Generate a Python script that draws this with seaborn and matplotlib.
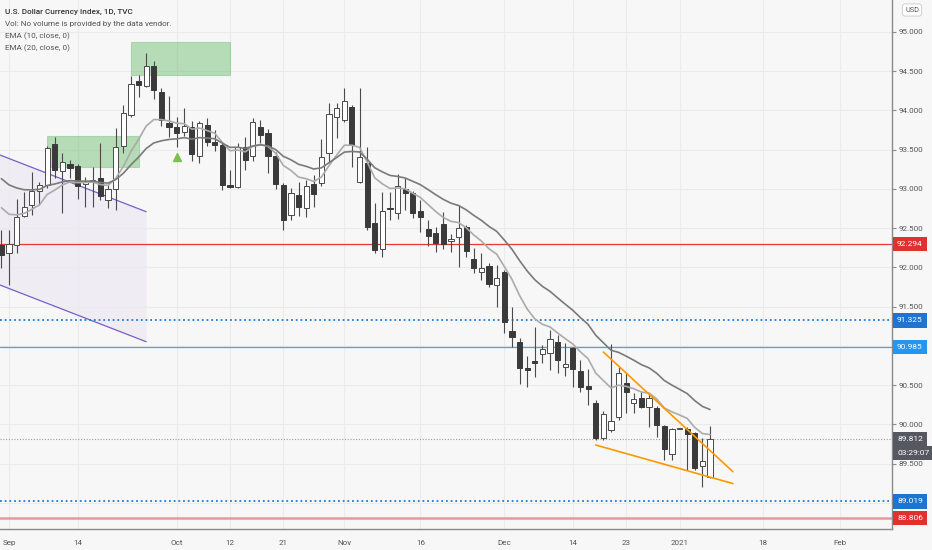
import numpy as np
import pandas as pd
import matplotlib
matplotlib.use('Agg')
import matplotlib.pyplot as plt
import matplotlib.transforms as mtransforms
from matplotlib.patches import Rectangle
import seaborn as sns

# TVC:DXY daily candles, 31 Aug 2020 .. 7 Jan 2021
opens = [92.285, 92.183, 92.285, 92.654, 92.795, 92.973, 93.049, 93.572, 93.228, 93.317,
         93.291, 93.062, 93.088, 93.138, 92.858, 92.998, 93.546, 93.941, 94.374, 94.310,
         94.565, 94.234, 93.839, 93.788, 93.724, 93.788, 93.419, 93.814, 93.597, 93.559,
         93.049, 93.024, 93.533, 93.419, 93.788, 93.712, 93.419, 93.049, 92.667, 92.922,
         92.756, 93.062, 93.075, 93.457, 93.916, 93.877, 94.043, 93.088, 93.330, 92.565,
         92.234, 92.756, 92.693, 92.998, 92.947, 92.718, 92.489, 92.438, 92.553, 92.336,
         92.387, 92.514, 92.107, 91.941, 92.017, 91.775, 91.941, 91.189, 91.049, 90.718,
         90.807, 90.896, 90.909, 91.049, 90.731, 90.973, 90.680, 90.489, 90.272, 89.826,
         89.928, 90.094, 90.527, 90.272, 90.336, 90.221, 90.208, 89.979, 89.622, 89.941,
         89.941, 89.890, 89.470, 89.329]
highs = [92.476, 92.476, 92.871, 92.960, 93.215, 93.088, 93.546, 93.661, 93.457, 93.368,
         93.317, 93.151, 93.279, 93.584, 93.049, 93.775, 94.068, 94.438, 94.451, 94.731,
         94.629, 94.285, 94.183, 93.916, 94.030, 93.865, 93.865, 93.903, 93.750, 93.584,
         93.240, 93.584, 93.661, 93.903, 93.877, 93.763, 93.470, 93.075, 93.011, 93.088,
         93.113, 93.177, 93.635, 94.094, 94.094, 94.285, 94.068, 94.285, 93.533, 92.820,
         92.960, 92.960, 93.189, 93.138, 92.973, 92.858, 92.603, 92.514, 92.705, 92.425,
         92.795, 92.540, 92.247, 92.183, 92.056, 92.030, 91.966, 91.495, 91.100, 90.871,
         91.240, 91.011, 91.202, 91.138, 91.037, 90.986, 90.820, 90.705, 90.310, 90.170,
         91.024, 90.731, 90.667, 90.400, 90.412, 90.400, 90.234, 89.992, 89.954, 89.947,
         89.966, 89.903, 89.826, 89.979]
lows = [91.992, 91.775, 92.183, 92.642, 92.667, 92.795, 93.011, 93.138, 92.693, 93.138,
        92.871, 92.769, 92.769, 92.858, 92.756, 92.731, 93.457, 93.916, 94.170, 94.298,
        94.145, 93.801, 93.661, 93.533, 93.673, 93.355, 93.330, 93.546, 93.482, 92.986,
        93.011, 93.011, 93.240, 93.355, 93.584, 93.202, 92.998, 92.476, 92.603, 92.654,
        92.642, 92.769, 93.037, 93.342, 93.648, 93.852, 93.279, 93.075, 92.476, 92.183,
        92.132, 92.603, 92.616, 92.731, 92.629, 92.451, 92.272, 92.196, 92.234, 92.196,
        92.005, 92.132, 91.928, 91.839, 91.750, 91.495, 91.164, 90.986, 90.514, 90.476,
        90.603, 90.782, 90.693, 90.654, 90.616, 90.476, 90.412, 90.247, 89.801, 89.801,
        89.903, 90.056, 90.145, 90.145, 90.208, 89.966, 89.839, 89.546, 89.546, 89.935,
        89.419, 89.419, 89.202, 89.317]
closes = [92.158, 92.298, 92.642, 92.769, 92.973, 93.049, 93.521, 93.240, 93.342, 93.266,
          93.037, 93.088, 93.113, 92.909, 92.998, 93.533, 93.966, 94.336, 94.323, 94.565,
          94.259, 93.877, 93.788, 93.712, 93.801, 93.444, 93.839, 93.597, 93.559, 93.049,
          93.024, 93.533, 93.368, 93.852, 93.686, 93.419, 93.062, 92.603, 92.947, 92.769,
          93.037, 92.935, 93.406, 93.954, 94.030, 94.119, 93.559, 93.406, 92.514, 92.221,
          92.718, 92.744, 93.037, 92.947, 92.693, 92.642, 92.400, 92.310, 92.298, 92.361,
          92.502, 92.209, 91.992, 91.992, 91.788, 91.865, 91.304, 91.113, 90.718, 90.693,
          90.782, 90.960, 91.087, 90.820, 90.769, 90.705, 90.476, 90.450, 89.826, 90.132,
          90.043, 90.654, 90.412, 90.323, 90.221, 90.336, 89.992, 89.686, 89.941, 89.941,
          89.877, 89.444, 89.533, 89.812]

# EMA values on the first visible bar (history before it is off-chart)
ema10_start = 92.76
ema20_start = 93.13

# horizontal levels drawn on the chart
red_levels = [92.294, 88.806]
blue_dotted_levels = [91.325, 89.019]
blue_level = 90.985
last_price = 89.812
countdown = '03:29:07'

# drawings
zone_low = (93.279, 93.674, '2020-09-08', '2020-09-24')
zone_high = (94.451, 94.871, '2020-09-23', '2020-10-12')
channel_dates = ['2020-08-28', '2020-09-25']
channel_upper = [93.462, 92.709]
channel_lower = [91.806, 91.053]
wedge_upper = [('2020-12-18', 90.922), ('2021-01-12', 89.397)]
wedge_lower = [('2020-12-17', 89.737), ('2021-01-12', 89.246)]
signal_date, signal_price = '2020-10-01', 93.41

tick_dates = ['2020-09-01', '2020-09-14', '2020-10-01', '2020-10-12', '2020-10-21',
              '2020-11-02', '2020-11-16', '2020-12-01', '2020-12-14', '2020-12-23',
              '2021-01-01', '2021-01-18', '2021-02-01']
tick_labels = ['Sep', '14', 'Oct', '12', '21', 'Nov', '16', 'Dec', '14', '23',
               '2021', '18', 'Feb']
price_ticks = np.arange(89.0, 95.01, 0.5)
hidden_ticks = [89.0, 91.0]   # covered by the price badges


def ema(values, start, span):
    a = 2.0 / (span + 1)
    out = [start]
    for v in values[1:]:
        out.append(out[-1] + a * (v - out[-1]))
    return out


cal = pd.bdate_range('2020-08-28', '2021-02-26')
pos = lambda d: cal.get_loc(pd.Timestamp(d))
dates = pd.bdate_range('2020-08-31', periods=len(closes))
x = cal.get_indexer(dates)

df = pd.DataFrame({'x': x, 'open': opens, 'high': highs, 'low': lows, 'close': closes})
df['ema10'] = ema(closes, ema10_start, 10)
df['ema20'] = ema(closes, ema20_start, 20)

sns.set_theme(style='white')
plt.rcParams['font.family'] = ['Roboto', 'DejaVu Sans']

bg = '#f7f7f7'
fig = plt.figure(figsize=(9.32, 5.5), dpi=100, facecolor=bg)
ax = fig.add_axes([0, 21 / 550, 892 / 932, 529 / 550])
ax.set_facecolor(bg)

# channel
cx = [pos(d) for d in channel_dates]
ax.fill_between(cx, channel_lower, channel_upper, color='#9575cd', alpha=0.08, lw=0, zorder=0.5)
ax.plot(cx, channel_upper, color='#7460c8', lw=0.9, zorder=1)
ax.plot(cx, channel_lower, color='#7460c8', lw=0.9, zorder=1)

# zones
for lo, hi, d0, d1 in [zone_low, zone_high]:
    ax.add_patch(Rectangle((pos(d0), lo), pos(d1) - pos(d0), hi - lo,
                           facecolor='#4caf50', alpha=0.38, edgecolor='#5cb860', lw=0.8, zorder=1))

# levels
ax.axhline(red_levels[0], color='#e53935', lw=0.9, zorder=1.2)
ax.axhline(red_levels[1], color='#e59a9a', lw=1.8, zorder=1.2)
for lv in blue_dotted_levels:
    ax.axhline(lv, color='#1e7bd6', lw=1.3, ls=(0, (1, 1.6)), zorder=1.2)
ax.axhline(blue_level, color='#42a5f5', lw=0.9, zorder=1.2)
ax.axhline(last_price, color='#9e9e9e', lw=0.8, ls=(0, (1, 1.5)), zorder=1.2)

# candles
up = df['close'] >= df['open']
body_lo = df[['open', 'close']].min(axis=1)
body_h = (df['close'] - df['open']).abs().clip(lower=0.01)
ax.vlines(df['x'], df['low'], df['high'], color='#4a4a4a', lw=0.8, zorder=2)
ax.bar(df['x'][up], body_h[up], bottom=body_lo[up], width=0.68,
       color='white', edgecolor='#4a4a4a', lw=0.7, zorder=3)
ax.bar(df['x'][~up], body_h[~up], bottom=body_lo[~up], width=0.68,
       color='#3a3a3a', edgecolor='#3a3a3a', lw=0.7, zorder=3)

# EMAs
sns.lineplot(data=df, x='x', y='ema10', ax=ax, color='#ababab', lw=1.2, zorder=4)
sns.lineplot(data=df, x='x', y='ema20', ax=ax, color='#7a7a7a', lw=1.2, zorder=4)

# wedge
for seg in [wedge_upper, wedge_lower]:
    ax.plot([pos(d) for d, _ in seg], [p for _, p in seg], color='#ff9800', lw=1.2, zorder=5)

ax.plot([pos(signal_date)], [signal_price], marker='^', ms=6, color='#7cc24a', ls='none', zorder=5)

# axes
ax.set_xlim(2 - 9 / 7.62, 2 + 883 / 7.62)
ax.set_ylim(88.667, 95.406)
ax.set_xlabel('')
ax.set_ylabel('')
ax.yaxis.tick_right()
ax.set_yticks(price_ticks)
ax.set_yticklabels(['' if round(v, 1) in hidden_ticks else f'{v:.3f}' for v in price_ticks])
ax.set_xticks([pos(d) for d in tick_dates])
ax.set_xticklabels(tick_labels)
ax.tick_params(axis='both', length=3, width=0.8, color='#8a8a8a', labelsize=5.8,
               labelcolor='#555555', direction='out')
ax.tick_params(axis='y', pad=2)
ax.tick_params(axis='x', pad=5)
ax.grid(True, color='#ebebeb', lw=0.8, zorder=0)
for s in ['top', 'left']:
    ax.spines[s].set_visible(False)
for s in ['right', 'bottom']:
    ax.spines[s].set_color('#8a8a8a')
    ax.spines[s].set_linewidth(1.0)

# price badges
tr = mtransforms.blended_transform_factory(ax.transAxes, ax.transData)


def badge(y, txt, color):
    ax.text(1.0 + 5 / 892, y, txt, transform=tr, ha='left', va='center', fontsize=6.0,
            color='white', clip_on=False, zorder=10,
            bbox=dict(boxstyle='square,pad=0.5', facecolor=color, edgecolor='none'))


badge(red_levels[0], f'{red_levels[0]:.3f}', '#e0302f')
badge(red_levels[1], f'{red_levels[1]:.3f}', '#e0302f')
for lv in blue_dotted_levels:
    badge(lv, f'{lv:.3f}', '#1e74d0')
badge(blue_level, f'{blue_level:.3f}', '#2196f3')
badge(last_price, f'{last_price:.3f}', '#555860')
badge(last_price - 14 * 0.012739, countdown, '#555860')

fig.text(912 / 932, 1 - 10 / 550, 'USD', ha='center', va='center', fontsize=5.3, color='#555555',
         bbox=dict(boxstyle='round,pad=0.35', facecolor='white', edgecolor='#d0d0d0', lw=0.7))

legend = ['U.S. Dollar Currency Index, 1D, TVC', 'Vol: No volume is provided by the data vendor.',
          'EMA (10, close, 0)', 'EMA (20, close, 0)']
for k, line in enumerate(legend):
    fig.text(5 / 932, 1 - (12 + 12 * k) / 550, line, ha='left', va='center', fontsize=5.9,
             color='#333333' if k == 0 else '#555555', fontweight='medium' if k == 0 else 'normal')

fig.savefig('out.png', dpi=100, facecolor=bg)
